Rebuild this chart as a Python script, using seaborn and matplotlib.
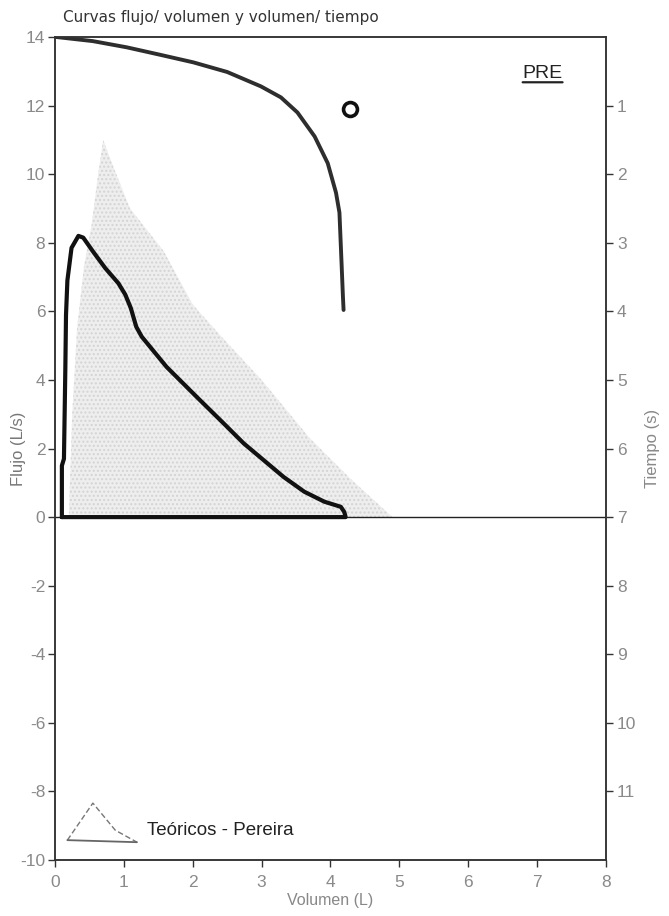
import pandas as pd
import matplotlib.pyplot as plt
import seaborn as sns

# -------------------------------------------------
# Data
# -------------------------------------------------
# measured flow / volume loop (L, L/s)
vol_fv = [0.10, 0.10, 0.13, 0.15, 0.16, 0.18, 0.24, 0.34, 0.41, 0.55, 0.73, 0.92,
          1.02, 1.10, 1.18, 1.26, 1.62, 2.06, 2.45, 2.74, 3.03, 3.32, 3.62, 3.91,
          4.15, 4.20, 4.22, 0.10]
flow_fv = [0.0, 1.5, 1.7, 4.3, 5.9, 6.9, 7.85, 8.2, 8.15, 7.75, 7.26, 6.82,
           6.49, 6.1, 5.55, 5.26, 4.38, 3.5, 2.73, 2.15, 1.66, 1.17, 0.74, 0.45,
           0.3, 0.15, 0.0, 0.0]

# measured volume / time curve (L, s)
vol_vt = [0.02, 0.55, 1.04, 1.53, 2.01, 2.50, 2.99, 3.28, 3.52, 3.77, 3.96,
          4.08, 4.13, 4.16, 4.18, 4.19]
time_vt = [0.0, 0.06, 0.15, 0.26, 0.37, 0.51, 0.72, 0.88, 1.10, 1.45, 1.84,
           2.27, 2.56, 3.28, 3.77, 3.98]

# predicted curve (Pereira)
vol_pred = [0.20, 0.25, 0.32, 0.42, 0.53, 0.62, 0.70, 0.85, 1.09, 1.58, 2.0,
            2.4, 3.0, 3.7, 4.3, 4.9]
flow_pred = [0.0, 3.0, 5.5, 7.3, 8.5, 9.9, 11.0, 10.2, 9.0, 7.75, 6.2,
             5.3, 4.0, 2.3, 1.1, 0.0]

# marker on the volume / time panel
mark_vol = [4.28]
mark_flow = [11.9]

# little legend glyph
leg_side_vol = [0.18, 0.55, 0.875, 1.19]
leg_side_flow = [-9.42, -8.34, -9.13, -9.48]
leg_base_vol = [0.18, 1.19]
leg_base_flow = [-9.42, -9.48]

flow_ticks = list(range(-10, 15, 2))
time_ticks = list(range(1, 12))
vol_ticks = list(range(0, 9))

fv = pd.DataFrame({"vol": vol_fv, "flow": flow_fv})
vt = pd.DataFrame({"vol": vol_vt, "time": time_vt})

sns.set_theme(style="ticks")
plt.rcParams["font.family"] = ["Liberation Sans", "DejaVu Sans"]
plt.rcParams["axes.unicode_minus"] = False

TICK_GREY = "#8a8a8a"
SPINE = "#333333"

fig = plt.figure(figsize=(6.69, 9.16), dpi=100)
ax = fig.add_axes([0.0822, 0.0611, 0.8236, 0.8985])

ax.fill_between(vol_pred, flow_pred, 0, facecolor="#eeeeee",
                hatch="....", edgecolor="#d4d4d4", linewidth=0)

ax.axhline(0, color="#222222", lw=1.0, zorder=2)

sns.lineplot(data=fv, x="vol", y="flow", sort=False, estimator=None,
             color="#111111", lw=3.0, ax=ax, zorder=4)

ax.plot(mark_vol, mark_flow, marker="o", ms=10, mfc="white", mec="#111111",
        mew=2.6, ls="none", zorder=5)

# legend glyph + label
ax.plot(leg_side_vol, leg_side_flow, color="#777777", lw=1.0, ls=(0, (4, 2)))
ax.plot(leg_base_vol, leg_base_flow, color="#666666", lw=1.3)
ax.text(1.34, -9.13, "Teóricos - Pereira", fontsize=13.5, color="#222222",
        va="center", ha="left")

# PRE label with underline
ax.text(7.08, 12.95, "PRE", fontsize=14, color="#222222", ha="center",
        va="center")
ax.annotate("", xy=(6.75, 12.68), xytext=(7.41, 12.68),
            arrowprops=dict(arrowstyle="-", color="#222222", lw=1.6))

ax.set_xlim(0, 8)
ax.set_ylim(-10, 14)
ax.set_xticks(vol_ticks)
ax.set_yticks(flow_ticks)
ax.set_xlabel("Volumen (L)", color="#888888", fontsize=11.5, labelpad=2)
ax.set_ylabel("Flujo (L/s)", color="#777777", fontsize=12)
ax.yaxis.set_label_coords(-0.052, 0.5)
ax.tick_params(axis="both", direction="out", length=5, width=1,
               colors=SPINE, labelcolor=TICK_GREY, labelsize=12.5)
ax.tick_params(axis="x", pad=6)
ax.tick_params(axis="y", pad=2)

# volume / time curve on the right axis
ax2 = ax.twinx()
sns.lineplot(data=vt, x="vol", y="time", sort=False, estimator=None,
             color="#2e2e2e", lw=2.8, ax=ax2)
ax2.set_ylim(12, 0)
ax2.set_yticks(time_ticks)
ax2.set_ylabel("Tiempo (s)", color="#888888", fontsize=12, labelpad=6)
ax2.tick_params(axis="y", direction="out", length=5, width=1,
                colors=SPINE, labelcolor=TICK_GREY, labelsize=12.5, pad=3)
ax2.set_xlabel("")

for a in (ax, ax2):
    for s in a.spines.values():
        s.set_visible(True)
        s.set_color(SPINE)
        s.set_linewidth(1.1)

fig.text(0.094, 0.981, "Curvas flujo/ volumen y volumen/ tiempo",
         fontsize=11, color="#333333", ha="left", va="center",
         family=["DejaVu Sans"])

fig.savefig("out.png", dpi=100)
plt.close(fig)
